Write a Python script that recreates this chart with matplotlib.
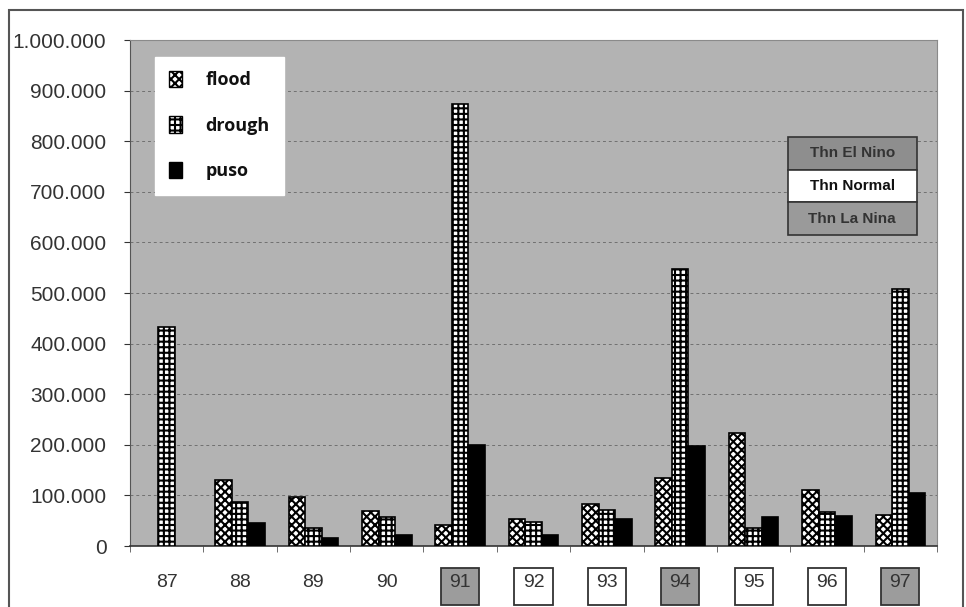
import numpy as np
import matplotlib
matplotlib.use('Agg')
import matplotlib.pyplot as plt
from matplotlib.patches import Rectangle, Patch
from matplotlib.ticker import FuncFormatter, MultipleLocator
import matplotlib.transforms as mtransforms

# data
years = ['87', '88', '89', '90', '91', '92', '93', '94', '95', '96', '97']
flood = [0, 131000, 97000, 69000, 42000, 54000, 83000, 135000, 224000, 111000, 61000]
drough = [432000, 87000, 36000, 57000, 873000, 48000, 71000, 548000, 36000, 68000, 508000]
puso = [0, 46000, 16000, 22000, 200000, 22000, 54000, 197000, 57000, 59000, 105000]
# year type: E = El Nino, N = Normal, None = no box
year_type = [None, None, None, None, 'E', 'N', 'N', 'E', 'N', 'N', 'E']

bg = '#b3b3b3'
elnino_col = '#8e8e8e'
lanina_col = '#9a9a9a'
box_col = '#9c9c9c'

plt.rcParams['font.family'] = ['Liberation Sans', 'DejaVu Sans']
plt.rcParams['hatch.linewidth'] = 1.5

fig = plt.figure(figsize=(9.66, 6.07), dpi=100)
ax = fig.add_axes([130 / 966, 1 - 546 / 607, 807 / 966, 506 / 607])
ax.set_facecolor(bg)

x = np.arange(len(years))
w = 0.225

def lw(vals):
    return [1.2 if v > 0 else 0 for v in vals]

ax.bar(x - w, flood, w, color='white', edgecolor='black', hatch='xxxx', linewidth=lw(flood), zorder=3)
ax.bar(x, drough, w, color='white', edgecolor='black', hatch='+++', linewidth=lw(drough), zorder=3)
ax.bar(x + w, puso, w, color='black', edgecolor='black', linewidth=lw(puso), zorder=3)

ax.set_xlim(-0.5, len(years) - 0.5)
ax.set_ylim(0, 1000000)
ax.yaxis.set_major_locator(MultipleLocator(100000))
ax.yaxis.set_major_formatter(FuncFormatter(lambda v, p: '{:,.0f}'.format(v).replace(',', '.')))
ax.grid(axis='y', color='#707070', linestyle=(0, (3, 3)), linewidth=0.7, zorder=1)

for s in ['top', 'right']:
    ax.spines[s].set_color('#8a8a8a')
    ax.spines[s].set_linewidth(0.8)
ax.spines['left'].set_color('#555555')
ax.spines['bottom'].set_color('#333333')
ax.spines['bottom'].set_linewidth(1.2)

ax.tick_params(axis='y', labelsize=15, colors='#333333', length=4, pad=13)
ax.set_xticks(x)
ax.set_xticklabels(years)
ax.tick_params(axis='x', labelsize=14, colors='#333333', length=0, pad=20)
ax.set_xticks(np.arange(len(years) + 1) - 0.5, minor=True)
ax.tick_params(axis='x', which='minor', length=4, color='#555555')

# boxes round the year labels
trans = mtransforms.blended_transform_factory(ax.transData, ax.transAxes)
bw = 0.52
for i, t in enumerate(year_type):
    if t is None:
        continue
    fc = box_col if t == 'E' else 'white'
    ax.add_patch(Rectangle((i - bw / 2, -0.1166), bw, 0.073, transform=trans, clip_on=False,
                           facecolor=fc, edgecolor='#333333', linewidth=1.3, zorder=0))

# legend for the bars
handles = [Patch(facecolor='white', edgecolor='black', hatch='xxxx', label='flood'),
           Patch(facecolor='white', edgecolor='black', hatch='+++', label='drough'),
           Patch(facecolor='black', edgecolor='black', label='puso')]
leg = ax.legend(handles=handles, loc='upper left', bbox_to_anchor=(0.031, 0.967),
                frameon=True, fancybox=False, edgecolor='white', facecolor='white', framealpha=1,
                labelspacing=1.5, handlelength=0.7, handleheight=1.0, handletextpad=1.3,
                borderpad=0.8, borderaxespad=0,
                prop={'family': 'Open Sans', 'weight': 'bold', 'size': 13})
leg.set_zorder(5)
for t in leg.get_texts():
    t.set_color('#111111')

# year type key
tab = ax.table(cellText=[['Thn El Nino'], ['Thn Normal'], ['Thn La Nina']],
               cellColours=[[elnino_col], ['white'], [lanina_col]],
               cellLoc='center', bbox=[0.815, 0.615, 0.16, 0.193], zorder=6)
tab.auto_set_font_size(False)
for (r, c), cell in tab.get_celld().items():
    cell.set_edgecolor('#333333')
    cell.set_linewidth(1.2)
    cell.get_text().set_fontsize(11)
    cell.get_text().set_fontweight('bold')
    cell.get_text().set_color('#111111' if r == 1 else '#333333')

# outer frame of the picture
fig.add_artist(Rectangle((9 / 966, -0.01), 954 / 966, 1 - 10 / 607 + 0.01, transform=fig.transFigure,
                         fill=False, edgecolor='#555555', linewidth=1.5))

fig.savefig('out.png', dpi=100)
